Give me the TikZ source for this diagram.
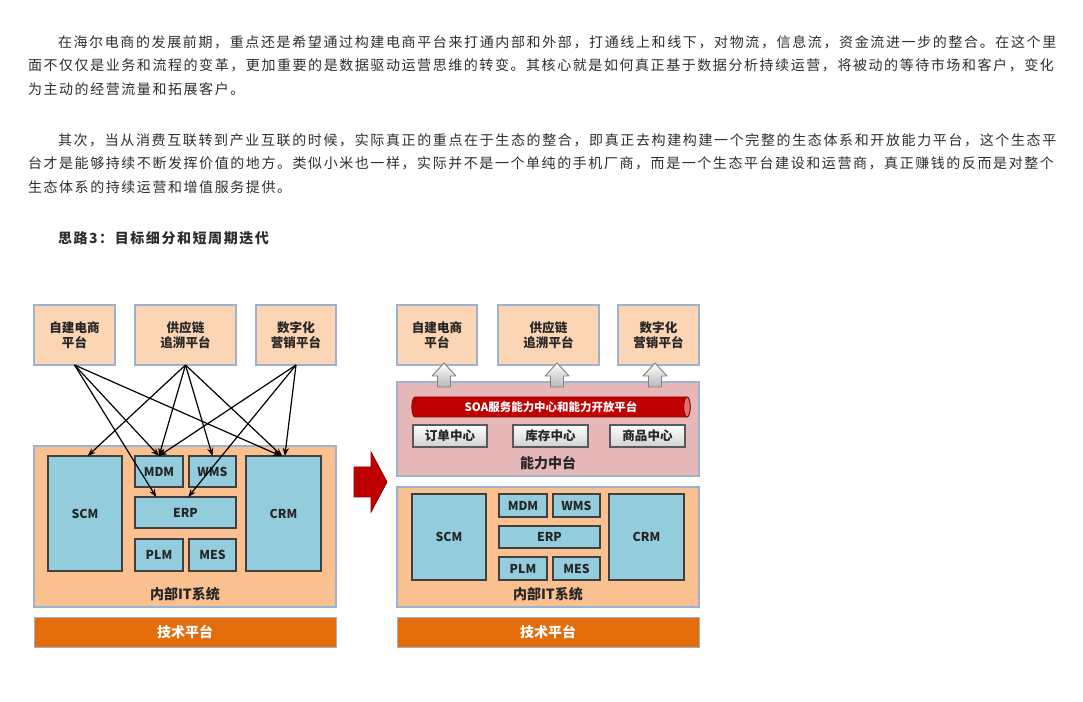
\documentclass[tikz,border=0pt]{standalone}
\usepackage{fontspec}
\usetikzlibrary{arrows.meta,calc}
\newfontfamily\cjk{Noto Sans CJK SC}
\newfontfamily\bodyA{Noto Sans CJK SC}[LetterSpace=11.6]
\newfontfamily\bodyB{Noto Sans CJK SC}[LetterSpace=11.2]
\definecolor{txt}{HTML}{2E2E2E}
\definecolor{peach}{HTML}{FCD5B5}
\definecolor{orangebg}{HTML}{FAC090}
\definecolor{bordblue}{HTML}{9BB3D0}
\definecolor{bluebox}{HTML}{93CDDD}
\definecolor{darkbord}{HTML}{404040}
\definecolor{techor}{HTML}{E46C0A}
\definecolor{pinkbg}{HTML}{E6B9B8}
\definecolor{soared}{HTML}{C00000}
\definecolor{soaend}{HTML}{E07070}
\begin{document}
\begin{tikzpicture}[x=0.75pt,y=-0.75pt,
  wh/.style 2 args={minimum width=#1*0.75pt, minimum height=#2*0.75pt},
  every node/.style={inner sep=0pt, outer sep=0pt},
  bodyline/.style={anchor=west, text=txt, text height=9.2pt, text depth=1.3pt},
  topbox/.style={draw=bordblue, fill=peach, line width=0.8pt, align=center,
    font=\cjk\bfseries\fontsize{9.4pt}{11.3pt}\selectfont, text=black!85},
  panel/.style={draw=bordblue, line width=0.8pt},
  sysbox/.style={draw=darkbord, fill=bluebox, line width=0.9pt,
    font=\cjk\bfseries\fontsize{9.2pt}{11pt}\selectfont, text=black!85},
  techbar/.style={draw=bordblue, fill=techor, line width=0.6pt,
    font=\cjk\bfseries\fontsize{10.5pt}{12pt}\selectfont, text=white},
  paneltitle/.style={font=\cjk\bfseries\fontsize{10.5pt}{12pt}\selectfont, text=black!85},
  centerbox/.style={draw=black!65, top color=white, bottom color=black!18, line width=0.8pt,
    font=\cjk\bfseries\fontsize{9.4pt}{11pt}\selectfont, text=black!85},
  link/.style={-{Stealth[length=6pt,width=4.5pt]}, line width=0.9pt, black},
  blockarrow/.style={draw=black!50, top color=white, bottom color=black!28, line width=0.7pt, line join=round}
]
\useasboundingbox[fill=white] (0,0) rectangle (1083,702);

% ---------- text ----------
\node[bodyline, font=\bodyA\fontsize{10.5pt}{12pt}\selectfont] (p1a) at (58,42) {在海尔电商的发展前期，重点还是希望通过构建电商平台来打通内部和外部，打通线上和线下，对物流，信息流，资金流进一步的整合。在这个里};
\node[bodyline, font=\bodyB\fontsize{10.5pt}{12pt}\selectfont] (p1b) at (28,65) {面不仅仅是业务和流程的变革，更加重要的是数据驱动运营思维的转变。其核心就是如何真正基于数据分析持续运营，将被动的等待市场和客户，变化};
\node[bodyline, font=\bodyB\fontsize{10.5pt}{12pt}\selectfont] (p1c) at (28,89) {为主动的经营流量和拓展客户。};
\node[bodyline, font=\bodyA\fontsize{10.5pt}{12pt}\selectfont] (p2a) at (58,140) {其次，当从消费互联转到产业互联的时候，实际真正的重点在于生态的整合，即真正去构建构建一个完整的生态体系和开放能力平台，这个生态平};
\node[bodyline, font=\bodyB\fontsize{10.5pt}{12pt}\selectfont] (p2b) at (28,163) {台才是能够持续不断发挥价值的地方。类似小米也一样，实际并不是一个单纯的手机厂商，而是一个生态平台建设和运营商，真正赚钱的反而是对整个};
\node[bodyline, font=\bodyB\fontsize{10.5pt}{12pt}\selectfont] (p2c) at (28,187) {生态体系的持续运营和增值服务提供。};
\node[bodyline, font=\bodyB\bfseries\fontsize{10.5pt}{12pt}\selectfont] (head) at (58,238) {思路3：目标细分和短周期迭代};

% ---------- left diagram ----------
\node[topbox, wh={81}{60}] (L1) at (74.5,335) {自建电商\\平台};
\node[topbox, wh={101}{60}] (L2) at (185.5,335) {供应链\\追溯平台};
\node[topbox, wh={80}{60}] (L3) at (296,335) {数字化\\营销平台};

\node[panel, fill=orangebg, wh={302}{161}] (Lpanel) at (185,526.5) {};
\node[sysbox, wh={74}{115}] (LSCM) at (85,513.5) {SCM};
\node[sysbox, wh={48}{31}] (LMDM) at (159,471.5) {MDM};
\node[sysbox, wh={47}{31}] (LWMS) at (212.5,471.5) {WMS};
\node[sysbox, wh={101}{31}] (LERP) at (185.5,512.5) {ERP};
\node[sysbox, wh={48}{32}] (LPLM) at (159,555) {PLM};
\node[sysbox, wh={47}{32}] (LMES) at (212.5,555) {MES};
\node[sysbox, wh={75}{115}] (LCRM) at (283.5,513.5) {CRM};
\node[paneltitle] (Lit) at (185,594) {内部IT系统};
\node[techbar, wh={302}{30}] (Ltech) at (185,632) {技术平台};

\coordinate (LERPa) at ($(LERP.north west)!0.21!(LERP.north east)$);
\draw[link] (L1.south) -- (LMDM.north);
\draw[link] (L1.south) -- (LERPa);
\draw[link] (L1.south) -- ([xshift=-2pt]LCRM.north);
\draw[link] (L2.south) -- ([xshift=2pt]LSCM.north);
\draw[link] (L2.south) -- (LMDM.north);
\draw[link] (L2.south) -- (LWMS.north);
\draw[link] (L2.south) -- ([xshift=-1pt]LCRM.north);
\draw[link] (L3.south) -- (LMDM.north);
\draw[link] (L3.south) -- ([xshift=2pt]LERP.north);
\draw[link] (L3.south) -- ([xshift=1pt]LCRM.north);

% ---------- transform arrow ----------
\draw[fill=soared, draw=soared!70!black, line width=0.6pt, line join=miter]
  (354,467) -- (371,467) -- (371,452) -- (387,482) -- (371,512) -- (371,497) -- (354,497) -- cycle;

% ---------- right diagram ----------
\node[topbox, wh={80}{60}] (R1) at (437,335) {自建电商\\平台};
\node[topbox, wh={101}{60}] (R2) at (548.5,335) {供应链\\追溯平台};
\node[topbox, wh={81}{60}] (R3) at (658.5,335) {数字化\\营销平台};

\node[panel, fill=pinkbg, wh={302}{94}] (Rmid) at (548,429) {};
\foreach \c in {444,557,655}{
  \draw[blockarrow] (\c,363) -- ({\c+12},376) -- ({\c+6.5},376) -- ({\c+6.5},387)
    -- ({\c-6.5},387) -- ({\c-6.5},376) -- ({\c-12},376) -- cycle;
}
% SOA cylinder
\draw[fill=soared, draw=soared!75!black, line width=0.6pt]
  (415,397) -- (687,397) arc[start angle=90, end angle=-90, x radius=2.4pt, y radius=7.5pt]
  -- (415,417) arc[start angle=270, end angle=90, x radius=2.4pt, y radius=7.5pt] -- cycle;
\draw[fill=soaend, draw=soared!75!black, line width=0.6pt] (687,407) ellipse[x radius=2.4pt, y radius=7.5pt];
\node[font=\cjk\bfseries\fontsize{8.6pt}{10pt}\selectfont, text=white] (soa) at (551,407) {SOA服务能力中心和能力开放平台};

\node[centerbox, wh={74}{22}] (ord) at (450,436) {订单中心};
\node[centerbox, wh={75}{22}] (inv) at (550.5,436) {库存中心};
\node[centerbox, wh={75}{22}] (prod) at (647.5,436) {商品中心};
\node[paneltitle] (Rcap) at (548,463) {能力中台};

\node[panel, fill=orangebg, wh={302}{120}] (Rpanel) at (548,547) {};
\node[sysbox, wh={74}{86}] (RSCM) at (449,537) {SCM};
\node[sysbox, wh={48}{23}] (RMDM) at (523,505.5) {MDM};
\node[sysbox, wh={47}{23}] (RWMS) at (576.5,505.5) {WMS};
\node[sysbox, wh={101}{22}] (RERP) at (549.5,537) {ERP};
\node[sysbox, wh={48}{23}] (RPLM) at (523,568.5) {PLM};
\node[sysbox, wh={47}{23}] (RMES) at (576.5,568.5) {MES};
\node[sysbox, wh={75}{86}] (RCRM) at (646.5,537) {CRM};
\node[paneltitle] (Rit) at (548,594) {内部IT系统};
\node[techbar, wh={302}{30}] (Rtech) at (548,632) {技术平台};
\end{tikzpicture}
\end{document}
